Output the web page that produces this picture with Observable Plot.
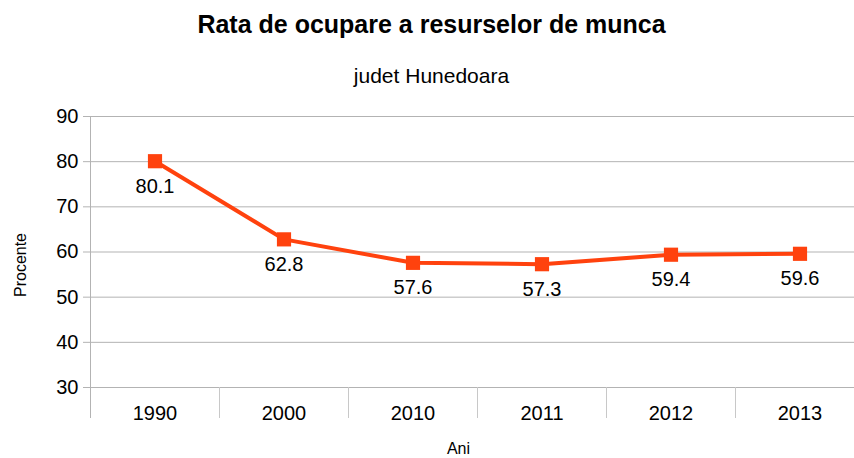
<!DOCTYPE html>
<html>
<head>
<meta charset="utf-8">
<script src="https://cdn.jsdelivr.net/npm/d3@7"></script>
<script src="https://cdn.jsdelivr.net/npm/@observablehq/plot@0.6"></script>
<style>
  body { margin: 0; background: #fff; font-family: "Liberation Sans", Arial, sans-serif; overflow: hidden; }
  #wrap { width: 854px; height: 458px; position: relative; overflow: hidden; }
  #title { height: 48px; line-height: 48px; text-align: center; font-weight: bold; font-size: 25px; padding-left: 9px; color: #000; }
  #subtitle { height: 56px; line-height: 56px; text-align: center; font-size: 21px; padding-left: 9px; color: #000; }
</style>
</head>
<body>
<div id="wrap">
  <div id="title">Rata de ocupare a resurselor de munca</div>
  <div id="subtitle">judet Hunedoara</div>
  <div id="chart"></div>
</div>
<script>
const years = ["1990", "2000", "2010", "2011", "2012", "2013"];
const values = [80.1, 62.8, 57.6, 57.3, 59.4, 59.6];
const yTicks = [30, 40, 50, 60, 70, 80, 90];
const xLabel = "Ani";
const yLabel = "Procente";

const data = years.map((y, i) => ({year: y, value: values[i]}));
const color = "#ff420e";
const width = 854, height = 354;
const mLeft = 90, mTop = 12, mBottom = 71;
const xRange = [90, 864];
const step = (xRange[1] - xRange[0]) / years.length;

const chart = Plot.plot({
  width, height,
  marginLeft: mLeft, marginRight: 0, marginTop: mTop, marginBottom: mBottom,
  style: {fontFamily: "Liberation Sans, Arial, sans-serif", color: "#000", background: "#fff"},
  x: {type: "band", domain: years, padding: 0, range: xRange, label: null},
  y: {domain: [30, 90], label: null},
  marks: [
    Plot.ruleY(yTicks, {stroke: "#b3b3b3", strokeWidth: 1}),
    Plot.ruleX([years[0]], {x: d => d, dx: -step / 2, stroke: "#b3b3b3", insetBottom: -31}),
    Plot.ruleX(years.slice(1), {x: d => d, dx: -step / 2, stroke: "#c8c8c8", insetTop: height - mTop - mBottom, insetBottom: -31}),
    Plot.axisY({ticks: yTicks, tickSize: 7, tickPadding: 5, fontSize: 20, stroke: "#b3b3b3", label: null, tickFormat: d => d}),
    Plot.axisX({tickSize: 0, tickPadding: 18, fontSize: 20, label: null}),
    Plot.line(data, {x: "year", y: "value", stroke: color, strokeWidth: 4}),
    Plot.dot(data, {x: "year", y: "value", symbol: "square", r: 8, fill: color, stroke: "none"}),
    Plot.text(data, {x: "year", y: "value", text: d => d.value.toFixed(1), dy: 25, fontSize: 20, fill: "#000"}),
    Plot.text([xLabel], {frameAnchor: "bottom", text: d => d, textAnchor: "middle", lineAnchor: "middle", dx: -14, dy: 61, fontSize: 16, fill: "#000"}),
    Plot.text([yLabel], {frameAnchor: "left", text: d => d, textAnchor: "middle", lineAnchor: "middle", rotate: -90, dx: -70, dy: 13, fontSize: 16, fill: "#000"})
  ]
});
document.getElementById("chart").appendChild(chart);
</script>
</body>
</html>
